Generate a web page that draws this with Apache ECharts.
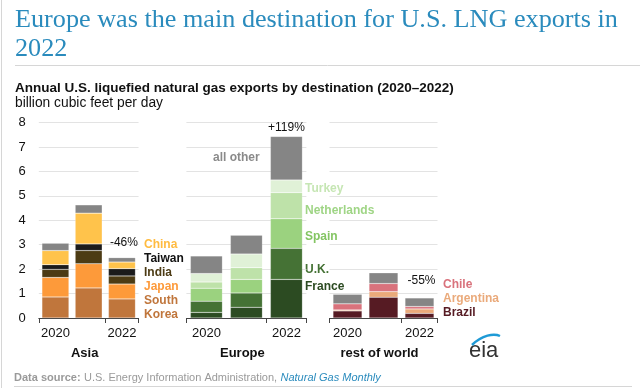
<!DOCTYPE html>
<html><head><meta charset="utf-8">
<script src="https://cdn.jsdelivr.net/npm/echarts@6/dist/echarts.min.js"></script>
<style>html,body{margin:0;padding:0;background:#fff}#c{width:640px;height:388px}</style>
</head><body><div id="c"></div><script>
// ---- data ----
const years = ['2020', '2021', '2022'];
const yTicks = [0, 1, 2, 3, 4, 5, 6, 7, 8];

const asiaSouthKorea = [0.86, 1.23, 0.78];
const asiaJapan      = [0.80, 0.99, 0.61];
const asiaIndia      = [0.33, 0.54, 0.33];
const asiaTaiwan     = [0.19, 0.27, 0.30];
const asiaChina      = [0.58, 1.26, 0.27];
const asiaOther      = [0.30, 0.34, 0.18];

const euFrance       = [0.23, 0.44, 1.58];
const euUK           = [0.46, 0.58, 1.27];
const euSpain        = [0.53, 0.56, 1.21];
const euNetherlands  = [0.25, 0.48, 1.07];
const euTurkey       = [0.35, 0.56, 0.52];
const euOther        = [0.72, 0.77, 1.78];

const rowBrazil      = [0.29, 0.85, 0.19];
const rowArgentina   = [0.04, 0.23, 0.18];
const rowChile       = [0.25, 0.33, 0.10];
const rowOther       = [0.39, 0.44, 0.35];

const changeLabels = ['-46%', '+119%', '-55%'];
const panelNames = ['Asia', 'Europe', 'rest of world'];

// ---- chart ----
const FONT = '"Liberation Sans", Arial, sans-serif';
const GRAY = '#858585';
const chart = echarts.init(document.getElementById('c'), null, {renderer: 'canvas'});

const grids = [
  {left: 38.8, width: 99.75, top: 122.5, height: 195.5},
  {left: 186.4, width: 120, top: 122.5, height: 195.5},
  {left: 329.5, width: 108, top: 122.5, height: 195.5}
];
const barWidths = [27, 32, 29];

function xAx(i) {
  return {
    type: 'category', gridIndex: i, data: years,
    axisLine: {lineStyle: {color: '#444', width: 1}},
    axisTick: {show: true, interval: 1, length: 5, lineStyle: {color: '#444'}},
    axisLabel: {interval: 1, color: '#111', fontSize: 13, fontFamily: FONT, margin: 9},
    name: panelNames[i], nameLocation: 'middle', nameGap: 29,
    nameTextStyle: {fontWeight: 'bold', fontSize: 13, color: '#111', fontFamily: FONT, padding: [0, 8, 0, 0]}
  };
}
function yAx(i) {
  return {
    type: 'value', gridIndex: i, min: yTicks[0], max: yTicks[yTicks.length - 1], interval: 1,
    axisLine: {show: false}, axisTick: {show: false},
    axisLabel: {show: i === 0, color: '#111', fontSize: 13, fontFamily: FONT, margin: 13},
    splitLine: {lineStyle: {color: '#e3e3e3', width: 1}}
  };
}

function bar(name, data, color, gi, isTop) {
  const s = {
    name: name, type: 'bar', stack: 'p' + gi, xAxisIndex: gi, yAxisIndex: gi,
    data: data.slice(), barWidth: barWidths[gi],
    itemStyle: {color: color, borderColor: 'rgba(255,255,255,0.35)', borderWidth: 0.5},
    emphasis: {disabled: true}, animation: false
  };
  if (isTop) {
    s.data = data.map((v, k) => k === 2 ? {
      value: v,
      label: {show: true, position: 'top', distance: gi === 1 ? 3 : (gi === 0 ? 9 : 11),
        offset: gi === 1 ? [0, 0] : [2, 0],
        formatter: changeLabels[gi], color: '#111', fontSize: 12, fontFamily: FONT}
    } : v);
  }
  return s;
}

const series = [
  bar('South Korea', asiaSouthKorea, '#c0763c', 0),
  bar('Japan', asiaJapan, '#fd9a3a', 0),
  bar('India', asiaIndia, '#4c3b14', 0),
  bar('Taiwan', asiaTaiwan, '#1b1b1b', 0),
  bar('China', asiaChina, '#ffc34b', 0),
  bar('all other', asiaOther, GRAY, 0, true),

  bar('France', euFrance, '#2c4b22', 1),
  bar('U.K.', euUK, '#457235', 1),
  bar('Spain', euSpain, '#9bd27f', 1),
  bar('Netherlands', euNetherlands, '#bee2a9', 1),
  bar('Turkey', euTurkey, '#e0f1d7', 1),
  bar('all other', euOther, GRAY, 1, true),

  bar('Brazil', rowBrazil, '#561b23', 2),
  bar('Argentina', rowArgentina, '#eaaa7b', 2),
  bar('Chile', rowChile, '#d9727c', 2),
  bar('all other', rowOther, GRAY, 2, true)
];

function t(x, y, text, color) {
  return {
    type: 'text', x: x, y: y,
    style: {text: text, fill: color, font: 'bold 12px ' + FONT, textVerticalAlign: 'middle'}
  };
}

const graphic = [
  // frame lines
  {type: 'line', shape: {x1: 1.5, y1: 0, x2: 1.5, y2: 388}, style: {stroke: '#d6d6d6', lineWidth: 1}},
  {type: 'line', shape: {x1: 15, y1: 65.5, x2: 640, y2: 65.5}, style: {stroke: '#d6d6d6', lineWidth: 1}},
  {type: 'line', shape: {x1: 14, y1: 386.5, x2: 632, y2: 386.5}, style: {stroke: '#d6d6d6', lineWidth: 1}},
  // title
  {type: 'text', x: 15, y: 6, style: {text: 'Europe was the main destination for U.S. LNG exports in\n2022',
    fill: '#2a8bbd', font: '26.2px "Liberation Serif", "Times New Roman", serif', lineHeight: 29}},
  {type: 'text', x: 15, y: 81, style: {text: 'Annual U.S. liquefied natural gas exports by destination (2020\u20132022)',
    fill: '#111', font: 'bold 13.5px ' + FONT}},
  {type: 'text', x: 15, y: 96, style: {text: 'billion cubic feet per day', fill: '#111', font: '13.8px ' + FONT}},
  // asia labels
  t(144, 245, 'China', '#ffbb40'),
  t(144, 259, 'Taiwan', '#111'),
  t(144, 273, 'India', '#4c3b14'),
  t(144, 287, 'Japan', '#fd9a3a'),
  t(144, 301, 'South', '#c0763c'),
  t(144, 315, 'Korea', '#c0763c'),
  // europe labels
  t(305, 189, 'Turkey', '#c6e6b4'),
  t(305, 211, 'Netherlands', '#9fd585'),
  t(305, 237, 'Spain', '#84c563'),
  t(305, 270, 'U.K.', '#457235'),
  t(305, 287, 'France', '#2c4b22'),
  t(213, 158, 'all other', '#8a8a8a'),
  // rest of world labels
  t(443, 285, 'Chile', '#d9727c'),
  t(443, 299, 'Argentina', '#eaaa7b'),
  t(443, 313, 'Brazil', '#561b23'),
  // source
  {type: 'text', x: 14, y: 372, style: {
    text: '{b|Data source:} {n|U.S. Energy Information Administration,} {i|Natural Gas Monthly}',
    rich: {
      b: {font: 'bold 11px ' + FONT, fill: '#9a9a9a'},
      n: {font: '11px ' + FONT, fill: '#9a9a9a'},
      i: {font: 'italic 11px ' + FONT, fill: '#2a8bbd'}
    }}},
  // eia logo
  {type: 'text', x: 469, y: 340, style: {text: 'eia', fill: '#333', font: '22px ' + FONT}},
  {type: 'bezierCurve', shape: {x1: 472, y1: 345, x2: 500, y2: 336, cpx1: 482, cpy1: 335, cpx2: 494, cpy2: 333},
    style: {stroke: '#1e9ad6', lineWidth: 2.5, fill: null}}
];

chart.setOption({
  animation: false,
  grid: grids,
  xAxis: [xAx(0), xAx(1), xAx(2)],
  yAxis: [yAx(0), yAx(1), yAx(2)],
  series: series,
  graphic: graphic
});
</script></body></html>
